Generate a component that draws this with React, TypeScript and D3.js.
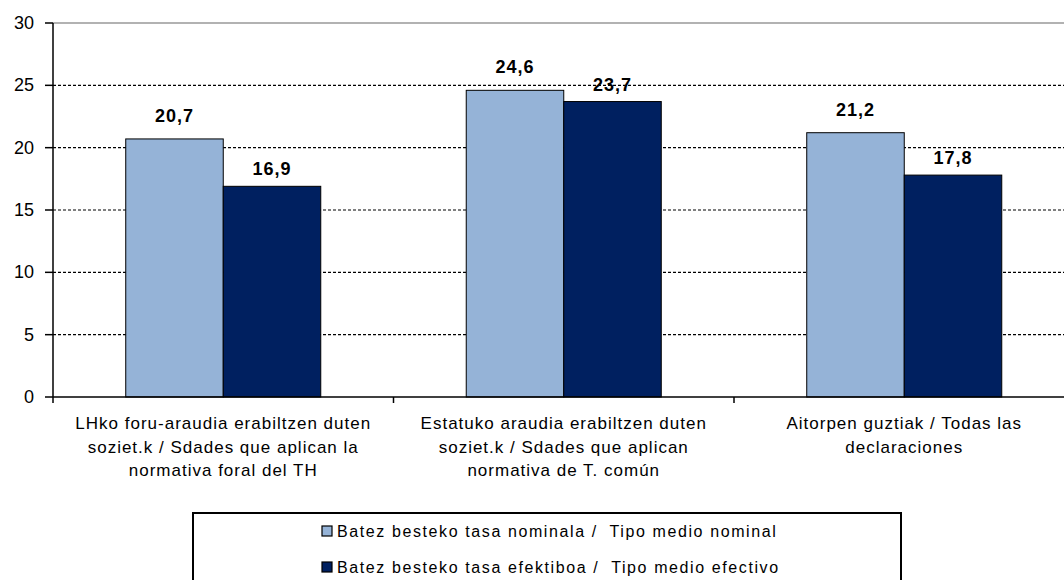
import * as d3 from 'd3';

const categories = [
  ['LHko foru-araudia erabiltzen duten', 'soziet.k / Sdades que aplican la', 'normativa foral del TH'],
  ['Estatuko araudia erabiltzen duten', 'soziet.k / Sdades que aplican', 'normativa de T. común'],
  ['Aitorpen guztiak / Todas las', 'declaraciones'],
];
const seriesNames = [
  'Batez besteko tasa nominala /  Tipo medio nominal',
  'Batez besteko tasa efektiboa /  Tipo medio efectivo',
];
const nominal = [20.7, 24.6, 21.2];
const efectivo = [16.9, 23.7, 17.8];
const yTicks = [0, 5, 10, 15, 20, 25, 30];
const colors = ['#95b3d7', '#002060'];

const fmt = (v: number) => v.toFixed(1).replace('.', ',');

export default function App() {
  const W = 1064;
  const H = 580;
  const left = 53;
  const top = 23;
  const bottom = 397;
  const right = 1074.5;
  const font = '"Liberation Sans", Arial, sans-serif';

  const y = d3.scaleLinear().domain([0, 30]).range([bottom, top]);
  const x0 = d3.scaleBand<number>().domain(d3.range(categories.length)).range([left, right]).padding(0);
  const x1 = d3.scaleBand<number>().domain([0, 1]).range([0, x0.bandwidth()]).paddingInner(0).paddingOuter(0.746);
  const series = [nominal, efectivo];
  const labelGap = [17, 11];

  return (
    <svg width={W} height={H} style={{ position: 'absolute', left: 0, top: 0, background: '#fff' }} fontFamily={font}>
      {/* top border + dashed grid */}
      <line x1={left} x2={right} y1={y(30)} y2={y(30)} stroke="#999" strokeWidth={1.5} />
      {yTicks.filter(t => t > 0 && t < 30).map(t => (
        <line key={t} x1={left} x2={right} y1={y(t)} y2={y(t)} stroke="#000" strokeDasharray="3,2" strokeWidth={1.2} />
      ))}

      {/* bars */}
      {series.map((vals, s) =>
        vals.map((v, i) => (
          <rect key={`${s}-${i}`} x={x0(i)! + x1(s)!} y={y(v)} width={x1.bandwidth()} height={y(0) - y(v)}
            fill={colors[s]} stroke="#000" strokeWidth={1} />
        ))
      )}
      {series.map((vals, s) =>
        vals.map((v, i) => (
          <text key={`l${s}-${i}`} x={x0(i)! + x1(s)! + x1.bandwidth() / 2} y={y(v) - labelGap[s]}
            textAnchor="middle" fontWeight="bold" fontSize={18} letterSpacing={1} fill="#000">{fmt(v)}</text>
        ))
      )}

      {/* y axis */}
      <line x1={left} x2={left} y1={top} y2={bottom + 6} stroke="#000" strokeWidth={1.5} />
      {yTicks.map(t => (
        <g key={t}>
          <line x1={left - 8} x2={left} y1={y(t)} y2={y(t)} stroke="#000" strokeWidth={1.5} />
          <text x={34} y={y(t) + 6} textAnchor="end" fontSize={18} fill="#000">{t}</text>
        </g>
      ))}

      {/* x axis */}
      <line x1={left} x2={right} y1={bottom} y2={bottom} stroke="#000" strokeWidth={1.5} />
      {d3.range(1, categories.length).map(i => (
        <line key={i} x1={x0(i)!} x2={x0(i)!} y1={bottom} y2={bottom + 6} stroke="#000" strokeWidth={1.5} />
      ))}
      {categories.map((lines, i) => (
        <text key={i} textAnchor="middle" fontSize={17} letterSpacing={1} fill="#000">
          {lines.map((ln, k) => (
            <tspan key={k} x={x0(i)! + x0.bandwidth() / 2} y={429 + k * 23.5}>{ln}</tspan>
          ))}
        </text>
      ))}

      {/* legend */}
      <rect x={193} y={513} width={708} height={80} fill="#fff" stroke="#000" strokeWidth={2} />
      {seriesNames.map((name, s) => (
        <g key={s}>
          <rect x={322} y={526 + s * 36} width={10} height={10} fill={colors[s]} stroke="#000" strokeWidth={1.2} />
          <text x={337} y={537 + s * 36} fontSize={16} letterSpacing={1.6} fill="#000" style={{ whiteSpace: 'pre' }}>{name}</text>
        </g>
      ))}
    </svg>
  );
}
